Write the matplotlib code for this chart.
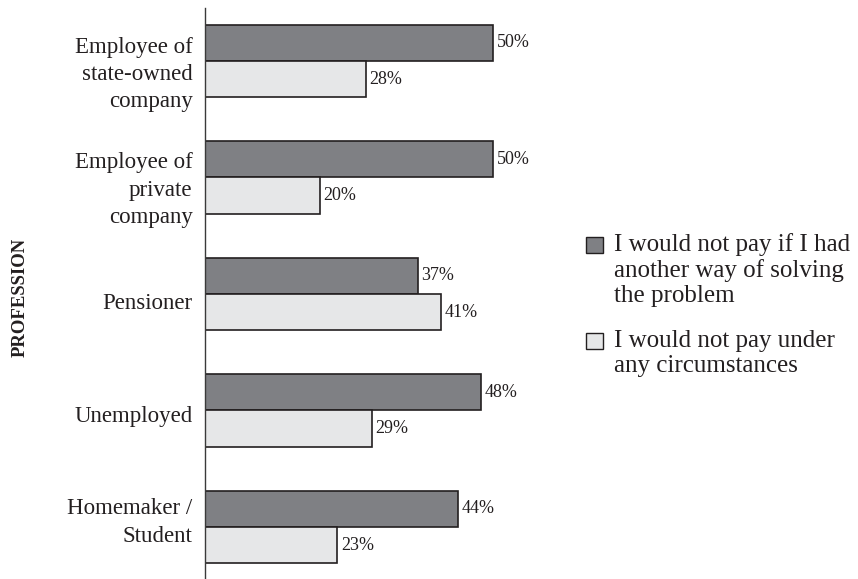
import matplotlib

matplotlib.use("Agg")
import matplotlib.pyplot as plt
from matplotlib.patches import Rectangle
from matplotlib.transforms import ScaledTranslation
import numpy as np

# ── data ───────────────────────────────────────────────────────────────────
professions = [
    "Employee of\nstate-owned\ncompany",
    "Employee of\nprivate\ncompany",
    "Pensioner",
    "Unemployed",
    "Homemaker /\nStudent",
]
not_pay_if_other_way = [50, 50, 37, 48, 44]
not_pay_any_case = [28, 20, 41, 29, 23]
series_labels = [
    "I would not pay if I had\nanother way of solving\nthe problem",
    "I would not pay under\nany circumstances",
]

# ── styling ────────────────────────────────────────────────────────────────
DARK = "#7f8084"
LIGHT = "#e6e7e8"
EDGE = "#231f20"
TEXT = "#231f20"
FONT = "Liberation Serif"
W, H = 858, 579

plt.rcParams["font.family"] = [FONT, "DejaVu Serif"]

fig = plt.figure(figsize=(W / 100, H / 100), dpi=100)
ax = fig.add_axes([205 / W, 1 / H, 345.6 / W, 570 / H])

y = np.arange(len(professions))
bar_h = 0.31

dark_bars = ax.barh(y - bar_h / 2, not_pay_if_other_way, height=bar_h,
                    color=DARK, edgecolor=EDGE, linewidth=1.2)
light_bars = ax.barh(y + bar_h / 2, not_pay_any_case, height=bar_h,
                     color=LIGHT, edgecolor=EDGE, linewidth=1.2)

# value labels just past the end of each bar
for bars, vals in ((dark_bars, not_pay_if_other_way), (light_bars, not_pay_any_case)):
    for bar, val in zip(bars, vals):
        ax.text(val + 0.6, bar.get_y() + bar.get_height() / 2, f"{val}%",
                ha="left", va="center", fontsize=13, color=TEXT, clip_on=False)

ax.set_xlim(0, 60)
ax.set_ylim(4.438, -0.455)
ax.set_yticks(y)
ax.set_yticklabels(professions, fontsize=16.5, color=TEXT, linespacing=1.38)
ax.tick_params(axis="y", length=0, pad=9)

# nudge the category labels a few pixels (positive = down)
label_shift_px = [8, 7, 7, 4, -10]
for lbl, dy in zip(ax.get_yticklabels(), label_shift_px):
    lbl.set_transform(lbl.get_transform()
                      + ScaledTranslation(0, -dy / 100, fig.dpi_scale_trans))

ax.xaxis.set_visible(False)
for side in ("top", "right", "bottom"):
    ax.spines[side].set_visible(False)
ax.spines["left"].set_color("#3a3a3a")
ax.spines["left"].set_linewidth(1.0)

fig.text(20 / W, 1 - 297 / H, "PROFESSION", rotation=90, fontsize=13.5,
         fontweight="bold", color=TEXT, ha="center", va="center")

# legend drawn by hand so the swatch sits beside the first line
for (top_px, sq_top, label, color) in ((233, 237, series_labels[0], DARK),
                                       (330, 333, series_labels[1], LIGHT)):
    fig.patches.append(Rectangle((586 / W, 1 - (sq_top + 16) / H), 17 / W, 16 / H,
                                 transform=fig.transFigure, facecolor=color,
                                 edgecolor=EDGE, linewidth=1.0))
    fig.text(614 / W, 1 - top_px / H, label, fontsize=18, color=TEXT,
             ha="left", va="top", linespacing=1.16)

fig.savefig("out.png", dpi=100)
